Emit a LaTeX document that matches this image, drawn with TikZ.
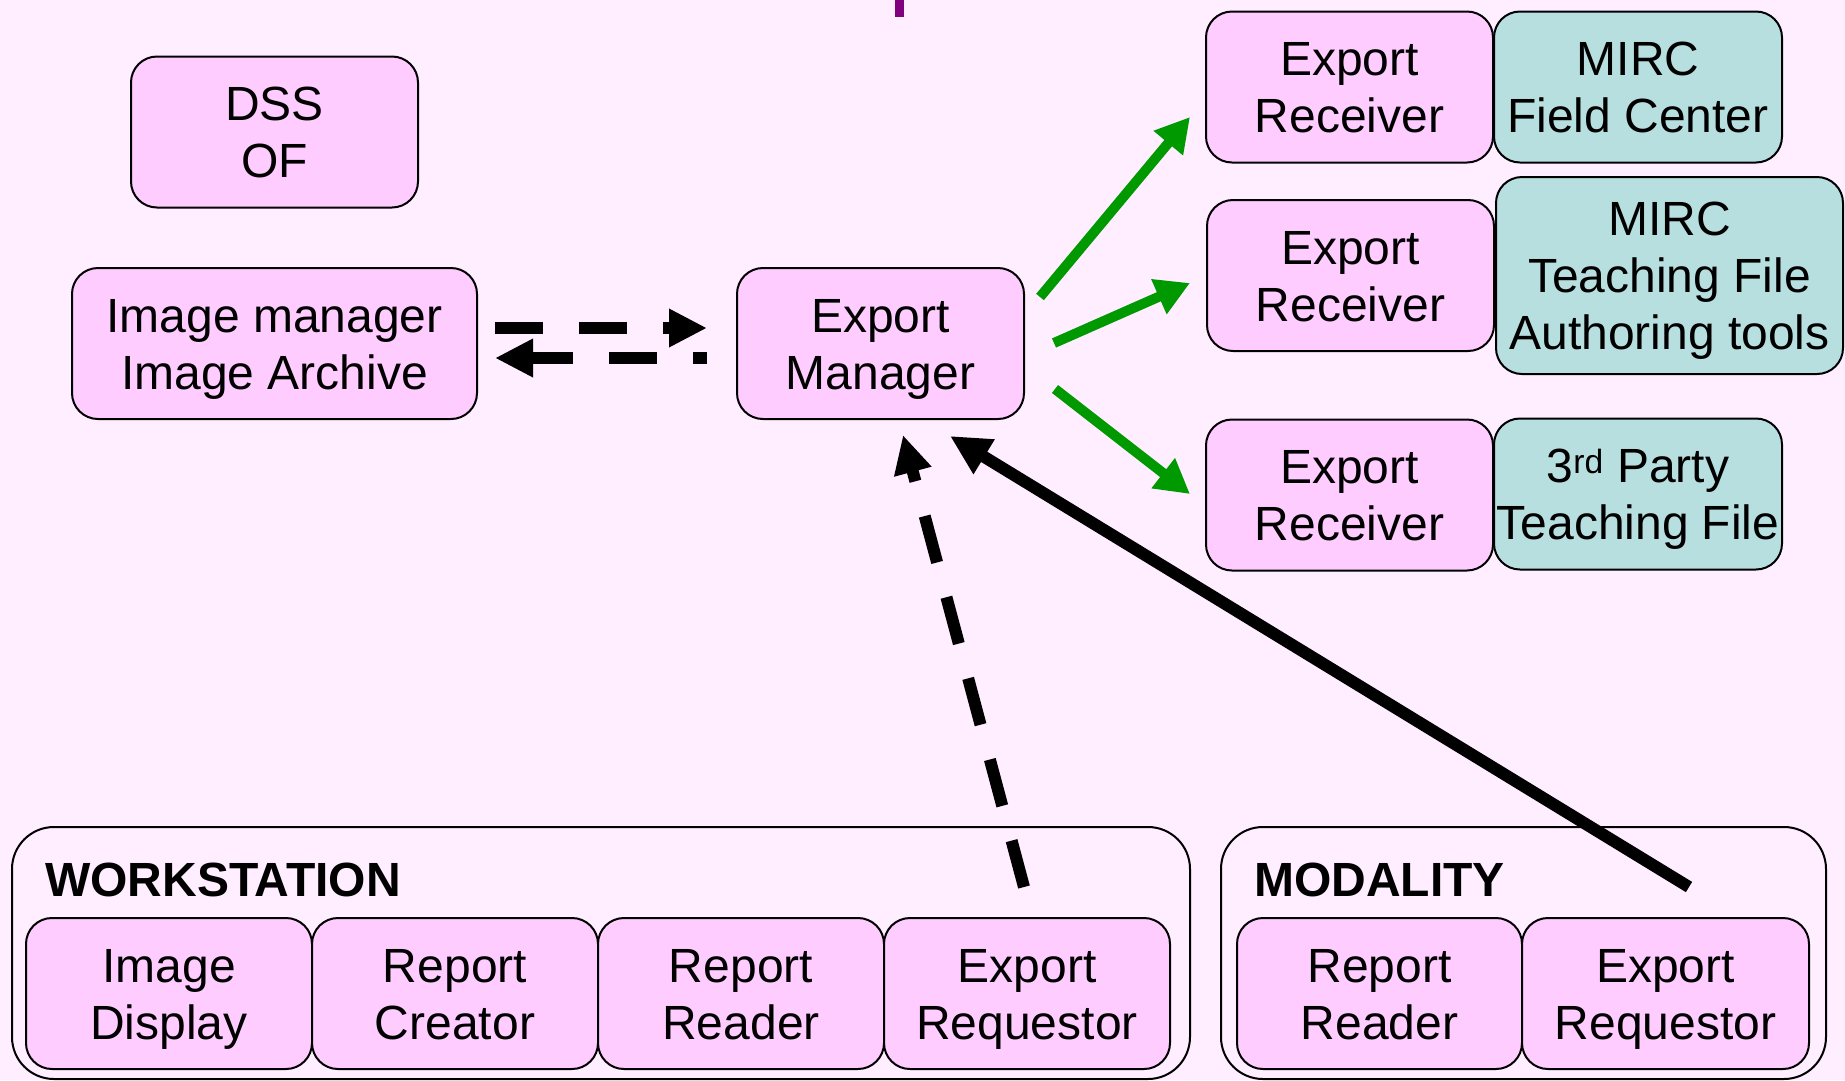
\documentclass[tikz,border=0pt]{standalone}
\usepackage{fontspec}
\setmainfont{Liberation Sans}
\usetikzlibrary{arrows.meta}
\definecolor{bgpink}{RGB}{255,238,255}
\definecolor{boxpink}{RGB}{255,204,255}
\definecolor{boxteal}{RGB}{184,223,224}
\definecolor{flowgreen}{RGB}{0,153,0}
\definecolor{markpurple}{RGB}{128,0,128}
% line strut: every text line counts as a full line box
\newcommand{\ls}{\rule[-11.5pt]{0pt}{57pt}}
\begin{document}
\begin{tikzpicture}[x=1pt,y=-1pt,
  unit/.style={draw=black, line width=2pt, rounded corners=26pt, inner sep=0pt,
    align=center, font=\fontsize{48}{57}\selectfont},
  pk/.style={unit, fill=boxpink, minimum width=287pt, minimum height=151pt},
  tl/.style={unit, fill=boxteal, minimum width=288pt, minimum height=151pt},
  frame/.style={draw=black, line width=2pt, rounded corners=42pt, fill=bgpink, inner sep=0pt},
  grouplabel/.style={anchor=base west, inner sep=0pt, font=\fontsize{48}{57}\selectfont\bfseries},
  dashflow/.style={line width=12pt, dash pattern=on 48pt off 36pt, -{Triangle[length=38pt,width=36pt]}},
  solidflow/.style={line width=12pt, -{Triangle[length=40pt,width=38pt]}},
  greenflow/.style={draw=flowgreen, line width=10pt, -{Triangle[length=34pt,width=36pt]}}]

% page
\fill[bgpink] (0,0) rectangle (1845,1080);
\useasboundingbox (0,0) rectangle (1845,1080);
\fill[markpurple] (895,0) rectangle (904,17);

% central components
\node[pk] (dss) at (274.5,132) {\ls DSS\\OF\ls};
\node[pk, minimum width=405pt] (ima) at (274.5,343.5) {\ls Image manager\\Image Archive\ls};
\node[pk] (em) at (880.5,343.5) {\ls Export\\Manager\ls};

% receivers and their consumers
\node[pk] (er1) at (1349.5,87) {\ls Export\\Receiver\ls};
\node[tl] (mfc) at (1638,87) {\ls MIRC\\Field Center\ls};
\node[pk] (er2) at (1350.5,275.5) {\ls Export\\Receiver\ls};
\node[tl, minimum width=347pt, minimum height=197pt] (mtf) at (1669.5,275.5) {\ls MIRC\\Teaching File\\Authoring tools\ls};
\node[pk] (er3) at (1349.5,495) {\ls Export\\Receiver\ls};
\node[tl] (tpt) at (1638,494) {\ls 3\textsuperscript{rd} Party\\Teaching File\ls};

% workstation group
\node[frame, minimum width=1178pt, minimum height=252pt] (ws) at (601,953) {};
\node[grouplabel] (wslabel) at (45,896) {WORKSTATION};
\node[pk, minimum width=286pt] (wsid) at (169,993.5) {\ls Image\\Display\ls};
\node[pk, minimum width=286pt] (wsrc) at (455,993.5) {\ls Report\\Creator\ls};
\node[pk, minimum width=286pt] (wsrr) at (741,993.5) {\ls Report\\Reader\ls};
\node[pk, minimum width=286pt] (wser) at (1027,993.5) {\ls Export\\Requestor\ls};

% modality group
\node[frame, minimum width=605pt, minimum height=252pt] (mod) at (1523.5,953) {};
\node[grouplabel] (modlabel) at (1254,896) {MODALITY};
\node[pk, minimum width=285pt] (modrr) at (1379.5,993.5) {\ls Report\\Reader\ls};
\node[pk, minimum width=287pt] (moder) at (1665.5,993.5) {\ls Export\\Requestor\ls};

% connector end points
\coordinate (imaR) at (495,328);
\coordinate (emL) at (707,328);
\coordinate (emL2) at (707,358);
\coordinate (imaR2) at (495,358);
\coordinate (wserT) at (1024,887);
\coordinate (emB1) at (903,435);
\coordinate (moderT) at (1689,887);
\coordinate (emB2) at (950,436);
\coordinate (emR1) at (1040,297);
\coordinate (er1L) at (1190,117);
\coordinate (emR2) at (1054,343);
\coordinate (er2L) at (1190,283);
\coordinate (emR3) at (1055,389);
\coordinate (er3L) at (1190,494);

% archive exchange
\draw[dashflow] (imaR) -- (emL);
\draw[dashflow, dash phase=34pt] (emL2) -- (imaR2);

% requests to the export manager
\draw[dashflow] (wserT) -- (emB1);
\draw[solidflow] (moderT) -- (emB2);

% exports to receivers
\draw[greenflow] (emR1) -- (er1L);
\draw[greenflow] (emR2) -- (er2L);
\draw[greenflow] (emR3) -- (er3L);
\end{tikzpicture}
\end{document}
